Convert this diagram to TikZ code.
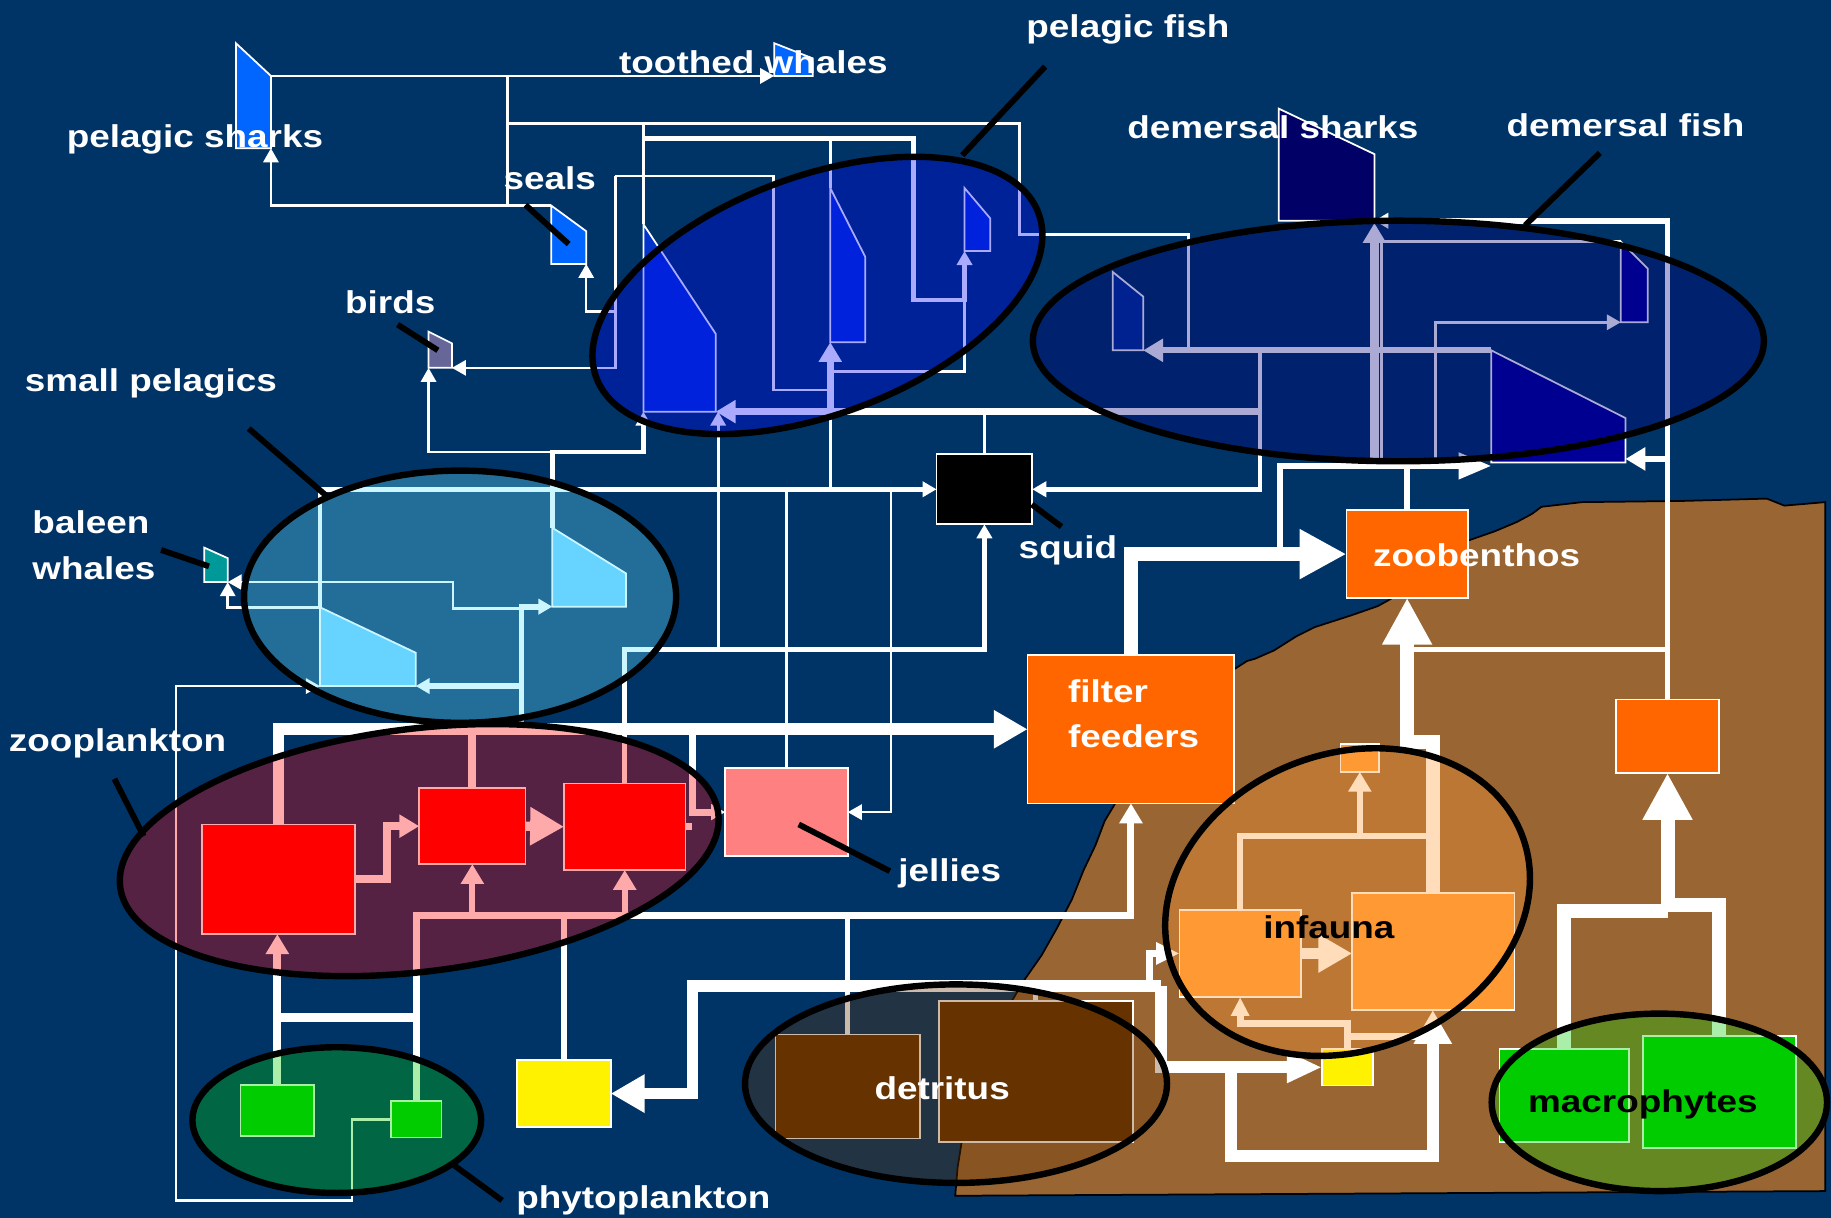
\documentclass[tikz,border=0pt]{standalone}
\usepackage{fontspec}
\setmainfont{Liberation Sans}[FakeStretch=1.17]
\usetikzlibrary{arrows.meta}
\definecolor{bg}{RGB}{0,51,102}
\definecolor{seabed}{RGB}{153,102,51}
\definecolor{sharkblue}{RGB}{0,102,255}
\definecolor{birdcol}{RGB}{102,102,153}
\definecolor{balcol}{RGB}{0,153,153}
\definecolor{spcol}{RGB}{102,204,255}
\definecolor{pfcol}{RGB}{0,51,204}
\definecolor{dshcol}{RGB}{0,0,102}
\definecolor{dfacol}{RGB}{0,51,153}
\definecolor{dfcol}{RGB}{0,0,153}
\definecolor{orng}{RGB}{255,102,0}
\definecolor{jelcol}{RGB}{255,128,128}
\definecolor{grn}{RGB}{0,204,0}
\definecolor{detcol}{RGB}{102,51,0}
\definecolor{infcol}{RGB}{255,153,51}
\definecolor{ovpf}{RGB}{0,0,255}
\definecolor{ovdf}{RGB}{0,0,128}
\definecolor{ovsp}{RGB}{102,230,255}
\definecolor{ovzp}{RGB}{255,0,0}
\definecolor{ovph}{RGB}{0,204,0}
\definecolor{ovdt}{RGB}{102,51,0}
\definecolor{ovif}{RGB}{255,153,51}
\newcommand\mylbl{\fontsize{27}{32}\selectfont\bfseries}
\begin{document}
\begin{tikzpicture}[x=1pt,y=-1pt,
  ln/.style={draw=white, line width=2.2pt},
  lm/.style={draw=white, line width=4pt},
  lk/.style={draw=white, line width=6pt},
  lx/.style={draw=white, line width=10pt},
  lxx/.style={draw=white, line width=12pt},
  ah/.style={-{Triangle[length=12pt,width=13pt]}},
  as/.style={-{Triangle[length=16pt,width=15pt]}},
  am/.style={-{Triangle[length=17pt,width=19pt]}},
  al/.style={-{Triangle[length=29pt,width=31pt]}},
  ax/.style={-{Triangle[length=40pt,width=40pt]}},
  bx/.style={draw=white, line width=1.5pt, inner sep=0pt, outer sep=0pt},
  fish/.style={draw=white, line width=1.5pt},
  rim/.style={draw=black, line width=5.5pt},
  ptr/.style={draw=black, line width=5pt},
  lab/.style={text=white, font=\mylbl, inner sep=0pt, anchor=base west},
  labk/.style={text=black, font=\mylbl, inner sep=0pt, anchor=base west}]
\useasboundingbox (0,0) rectangle (1568,1043);
\fill[bg] (0,0) rectangle (1568,1043);
% sea bed
\filldraw[fill=seabed, draw=black, line width=1.5pt]
  (818,1024) -- (820,1000) -- (824,975) -- (832,940) -- (850,885) -- (866,858) -- (878,838)
  -- (892,818) -- (905,795) -- (918,770) -- (928,745) -- (938,724) -- (946,703) -- (955,688)
  -- (985,640) -- (1057,573) -- (1068,566) -- (1075,564) -- (1091,557) -- (1110,545) -- (1126,537)
  -- (1157,527) -- (1180,519) -- (1205,505) -- (1257,463) -- (1280,455) -- (1299,447)
  -- (1312,440) -- (1320,434) -- (1355,430) -- (1440,429) -- (1513,427) -- (1528,433) -- (1563,430)
  -- (1563,1020) -- cycle;
% ---------- boxes ----------
\node[bx, fill=black, minimum width=82pt, minimum height=60pt] (squid) at (843,419) {};
\node[bx, fill=orng, minimum width=104pt, minimum height=75pt] (zb) at (1205,474.5) {};
\node[bx, fill=orng, minimum width=177pt, minimum height=127pt] (ff) at (968.5,624.5) {};
\node[bx, fill=orng, minimum width=88pt, minimum height=63pt] (ob) at (1428,630.5) {};
\node[bx, fill=red, minimum width=131pt, minimum height=94pt] (za) at (238.5,753) {};
\node[bx, fill=red, minimum width=91pt, minimum height=65pt] (zbb) at (404.5,707.5) {};
\node[bx, fill=red, minimum width=104pt, minimum height=74pt] (zc) at (535,708) {};
\node[bx, fill=jelcol, minimum width=105pt, minimum height=75pt] (jel) at (673.5,695.5) {};
\node[bx, fill=grn, minimum width=63pt, minimum height=44pt] (pa) at (237.5,951) {};
\node[bx, fill=grn, minimum width=43pt, minimum height=31pt] (pb) at (356.5,958.5) {};
\node[bx, fill=yellow, minimum width=80pt, minimum height=57pt] (yel) at (483,936.5) {};
\node[bx, fill=detcol, minimum width=124pt, minimum height=89pt] (da) at (726,930.5) {};
\node[bx, fill=detcol, minimum width=166pt, minimum height=121pt] (db) at (887,917.5) {};
\node[bx, fill=infcol, minimum width=33pt, minimum height=24pt] (is) at (1164.5,649) {};
\node[bx, fill=infcol, minimum width=104pt, minimum height=75pt] (ia) at (1062,816.5) {};
\node[bx, fill=infcol, minimum width=139pt, minimum height=100pt] (ic) at (1227.5,815) {};
\node[bx, fill=yellow, minimum width=44pt, minimum height=31pt] (iy) at (1154,914) {};
\node[bx, fill=grn, minimum width=111pt, minimum height=80pt] (ma) at (1339.5,938) {};
\node[bx, fill=grn, minimum width=131pt, minimum height=96pt] (mb) at (1472.5,935) {};
% ---------- fish shapes ----------
\draw[fish, fill=sharkblue] (202,37) -- (232,65) coordinate (psh-tr) -- (232,127) coordinate (psh-br) -- (202,127) -- cycle;
\draw[fish, fill=sharkblue] (663,37) -- (696,50) -- (696,65) -- (663,65) coordinate (tw-bl) -- cycle;
\draw[fish, fill=sharkblue] (472,176) coordinate (seal-tl) -- (502,198) -- (502,226) coordinate (seal-br) -- (472,226) -- cycle;
\draw[fish, fill=birdcol] (367,284) -- (387,294) -- (387,315) coordinate (bird-br) -- (367,315) coordinate (bird-bl) -- cycle;
\draw[fish, fill=balcol] (175,469) -- (195,478) -- (195,498.5) coordinate (bal-br) -- (175,498.5) -- cycle;
\draw[fish, fill=spcol] (473,452) coordinate (spa-tl) -- (536,491) -- (536,519.5) -- (473,519.5) coordinate (spa-bl) -- cycle;
\draw[fish, fill=spcol] (274,520) coordinate (spb-tl) -- (356,559) -- (356,587.5) coordinate (spb-br) -- (274,587.5) coordinate (spb-bl) -- cycle;
\draw[fish, fill=pfcol] (551,192) coordinate (pfa-tl) -- (613,286) -- (613,352.5) coordinate (pfa-br) -- (551,352.5) coordinate (pfa-bl) -- cycle;
\draw[fish, fill=pfcol] (711,161) coordinate (pfb-tl) -- (741,220) -- (741,293) -- (711,293) coordinate (pfb-bl) -- cycle;
\draw[fish, fill=pfcol] (826,161) -- (848,187) -- (848,215) -- (826,215) coordinate (pfc-bl) -- cycle;
\draw[fish, fill=dshcol] (1095,93) -- (1177,132) -- (1177,189) coordinate (dsh-br) -- (1095,189) -- cycle;
\draw[fish, fill=dfacol] (953,233) -- (979,254) -- (979,300) coordinate (dfa-br) -- (953,300) -- cycle;
\draw[fish, fill=dfcol] (1388,207) coordinate (dfb-tl) -- (1411,230) -- (1411,276) -- (1388,276) coordinate (dfb-bl) -- cycle;
\draw[fish, fill=dfcol] (1277,300) coordinate (dfc-tl) -- (1392,358) -- (1392,396) -- (1277,396) -- cycle;
% ---------- connectors: top ----------
\draw[ln, ah] (psh-tr) -- (tw-bl);
\draw[ln, ah] (seal-tl) -| (psh-br);
\draw[ln] (434.6,176) -- (434.6,65);
\draw[ln] (434.6,105.6) -- (873,105.6) -- (873,201) -- (1018,201) -- (1018,300);
\draw[ln] (pfa-tl |- 0,105.6) -- (pfa-tl);
\draw[lm, ah] (551,118.4) -- (782.5,118.4) -- (782.5,257) -- (826,257) -- (pfc-bl);
\draw[draw=white, line width=3pt] (711,118.4) -- (pfb-tl);
\draw[ln] (527,150.7) -- (662.4,150.7) -- (662.4,334) -- (711,334);
\draw[ln, ah] (527,150.7) -- (527,315) -- (bird-br);
\draw[ln, ah] (527,266.8) -- (502,266.8) -- (seal-br);
\draw[ln] (826,257) -- (826,318) -- (711,318);
\draw[lk, am] (1079,352.5) -- (pfa-br);
\draw[lk, am] (711,352.5) -- (pfb-bl);
\draw[draw=white, line width=3pt] (squid.north |- 0,352.5) -- (squid.north);
\draw[lm, ah] (1079,300) -- (1079,419) -- (squid.east);
\draw[lm, ah] (spb-tl) -- (274,419) -- (squid.west);
\draw[lm, ah] (spa-tl) -- (473,387) -- (551,387) -- (pfa-bl);
\draw[ln, ah] (473,387) -- (367,387) -- (bird-bl);
\draw[draw=white, line width=2.5pt, ah] (615,556.5) -- (615,352.5);
\draw[ln] (711,352.5) -- (711,419);
\draw[ln] (jel.north |- 0,419) -- (jel.north);
\draw[ln, ah] (763,419) -- (763,695.5) -- (jel.east);
\draw[draw=white, line width=4.5pt, ah] (zc.north) -- (535,556.5) -- (843,556.5) -- (squid.south);
% ---------- small pelagics / baleen ----------
\draw[draw=white, line width=5pt, ah] (446.6,624.5) -- (446.6,519.5) -- (spa-bl);
\draw[draw=white, line width=5pt, ah] (446.6,587.5) -- (spb-br);
\draw[ln, ah] (446.6,521) -- (388,521) -- (388,498.5) -- (bal-br);
\draw[ln, ah] (spb-tl) -| (bal-br);
\draw[ln, ah] (pb.west) -- (301.5,958.5) -- (301.5,1028) -- (150.8,1028) -- (150.8,587.5) -- (spb-bl);
% ---------- zooplankton ----------
\draw[lx, al] (za.north) |- (ff.west);
\draw[draw=white, line width=7pt] (zbb.north) -- (zbb.north |- ff.west);
\draw[draw=white, line width=6pt, ah] (593,624.5) |- (jel.west);
\draw[draw=white, line width=6pt] (zc.east) -- (593,708);
\draw[draw=white, line width=7pt, am] (za.east) -- (331.7,753) -- (331.7,707.5) -- (zbb.west);
\draw[draw=white, line width=8pt, al] (zbb.east) -- (zc.west);
\draw[draw=white, line width=7pt, am] (pa.north) -- (pa.north |- za.south);
\draw[lk, am] (pb.north) -- (356.5,783.7) -- (968.5,783.7) -- (ff.south);
\draw[draw=white, line width=5pt, am] (404.5,783.7) -- (zbb.south);
\draw[draw=white, line width=5pt, am] (535,783.7) -- (zc.south);
\draw[draw=white, line width=7pt] (237.5,871.4) -- (356.5,871.4);
\draw[draw=white, line width=5pt] (yel.north) -- (483,783.7);
\draw[lm] (da.north) -- (726,783.7);
% ---------- detritus / benthos ----------
\draw[lx, al] (994,844.4) -- (593,844.4) -- (593,936.5) -- (yel.east);
\draw[lm] (db.north) -- (887,844.4);
\draw[lx, -{Triangle[length=30pt,width=25pt]}] (994,844.4) -- (994,914) -- (iy.west);
\draw[lx, al] (1054,914) -- (1054,990) -- (1227,990) -- (ic.south -| 1227,0);
\draw[draw=white, line width=6pt, -{Triangle[length=20pt,width=18pt]}] (984,844.4) -- (984,816.5) -- (ia.west);
\draw[draw=white, line width=6pt, as] (iy.north) -- (1154,876.8) -- (1062,876.8) -- (ia.south);
\draw[draw=white, line width=6pt] (1154,887.6) -- (1227,887.6);
\draw[draw=white, line width=10pt, al] (ia.east) -- (ia.east -| ic.west);
\draw[draw=white, line width=5pt, am] (ia.north) -- (1062,716) -- (1164.5,716) -- (is.south);
\draw[draw=white, line width=5pt] (1164.5,716) -- (ic.north |- 0,716);
\draw[lxx, ax] (ic.north) -- (1227.5,635) -- (1205,635) -- (zb.south);
\draw[lm] (1205,556) -- (1428,556);
\draw[draw=white, line width=5pt, ah] (ob.north) -- (1428,189) -- (dsh-br);
\draw[draw=white, line width=5pt, am] (1428,393) -- (1392,393);
\draw[lxx] (ma.north) -- (1339.5,780) -- (1428,780);
\draw[lxx] (mb.north -| 1472,0) -- (1472,775) -- (1422,775);
\draw[lxx, ax] (1428,780) -- (ob.south);
\draw[lxx, ax] (ff.north) -- (968.5,474.5) -- (zb.west);
\draw[draw=white, line width=5pt, -{Triangle[length=28pt,width=22pt]}] (1096,474.5) -- (1096,399) -- (1277,399);
\draw[draw=white, line width=5pt] (zb.north) -- (1205,399);
\draw[draw=white, line width=7pt, am] (1177,399) -- (1177,191);
\draw[draw=white, line width=2.5pt] (1183,399) -- (1183,207) -- (dfb-tl);
\draw[draw=white, line width=2.5pt, ah] (1229.6,399) -- (1229.6,276) -- (dfb-bl);
\draw[draw=white, line width=5pt, am] (dfc-tl) -- (dfa-br);
% ---------- ellipse overlays ----------
\fill[ovpf, fill opacity=0.333, shift={(700,253)}, rotate=20.4] (0,0) ellipse [x radius=202pt, y radius=102pt];
\fill[ovdf, fill opacity=0.333] (1197.5,292) ellipse [x radius=313pt, y radius=103pt];
\fill[ovsp, fill opacity=0.333] (394,511) ellipse [x radius=185pt, y radius=108pt];
\fill[ovzp, fill opacity=0.333, shift={(359,728)}, rotate=7] (0,0) ellipse [x radius=258pt, y radius=104pt];
\fill[ovph, fill opacity=0.333] (288.4,959.2) ellipse [x radius=123.6pt, y radius=62.4pt];
\fill[ovdt, fill opacity=0.333] (818.7,928) ellipse [x radius=180.7pt, y radius=85pt];
\fill[ovif, fill opacity=0.333, shift={(1154,772.5)}, rotate=21] (0,0) ellipse [x radius=160pt, y radius=127pt];
\fill[ovph, fill opacity=0.333] (1421,944) ellipse [x radius=143.6pt, y radius=76pt];
% rims
\draw[rim, shift={(700,253)}, rotate=20.4] (0,0) ellipse [x radius=202pt, y radius=102pt];
\draw[rim] (1197.5,292) ellipse [x radius=313pt, y radius=103pt];
\draw[rim] (394,511) ellipse [x radius=185pt, y radius=108pt];
\draw[rim, shift={(359,728)}, rotate=7] (0,0) ellipse [x radius=258pt, y radius=104pt];
\draw[rim] (288.4,959.2) ellipse [x radius=123.6pt, y radius=62.4pt];
\draw[rim] (818.7,928) ellipse [x radius=180.7pt, y radius=85pt];
\draw[rim, shift={(1154,772.5)}, rotate=21] (0,0) ellipse [x radius=160pt, y radius=127pt];
\draw[rim] (1421,944) ellipse [x radius=143.6pt, y radius=76pt];
% ---------- pointer lines ----------
\draw[ptr] (895,57) -- (824,133);
\draw[ptr] (1370,131) -- (1306,193);
\draw[ptr] (450,175.5) -- (487,209);
\draw[ptr] (340.5,278) -- (375,300);
\draw[ptr] (213,367) -- (280,425);
\draw[ptr] (138,471) -- (179,485);
\draw[ptr] (98,667) -- (123,716);
\draw[ptr] (389,998) -- (430,1028);
\draw[ptr] (684,706) -- (762,746);
\draw[ptr] (883.6,432) -- (909,451);
% ---------- labels ----------
\node[lab] (l-psh) at (57,126) {pelagic sharks};
\node[lab] (l-tw) at (530,63.3) {toothed whales};
\node[lab] (l-pf) at (878.8,31.7) {pelagic fish};
\node[lab] (l-dsh) at (965.2,118.3) {demersal sharks};
\node[lab] (l-df) at (1290,117.3) {demersal fish};
\node[lab] (l-seal) at (431,162.7) {seals};
\node[lab] (l-bird) at (295.4,268.3) {birds};
\node[lab] (l-sp) at (21,335) {small pelagics};
\node[lab] (l-bal1) at (27.6,456.7) {baleen};
\node[lab] (l-bal2) at (27.6,496) {whales};
\node[lab] (l-zp) at (7.5,643.6) {zooplankton};
\node[lab] (l-sq) at (872.2,478.3) {squid};
\node[lab] (l-zb) at (1175.7,485) {zoobenthos};
\node[lab] (l-ff1) at (914.4,601.5) {filter};
\node[lab] (l-ff2) at (914.4,640.3) {feeders};
\node[lab] (l-jel) at (769.2,754.9) {jellies};
\node[labk] (l-inf) at (1081.6,803.3) {infauna};
\node[lab] (l-det) at (748.7,941.7) {detritus};
\node[labk] (l-mac) at (1308.4,952.4) {macrophytes};
\node[lab] (l-ph) at (442,1035) {phytoplankton};
\end{tikzpicture}
\end{document}
